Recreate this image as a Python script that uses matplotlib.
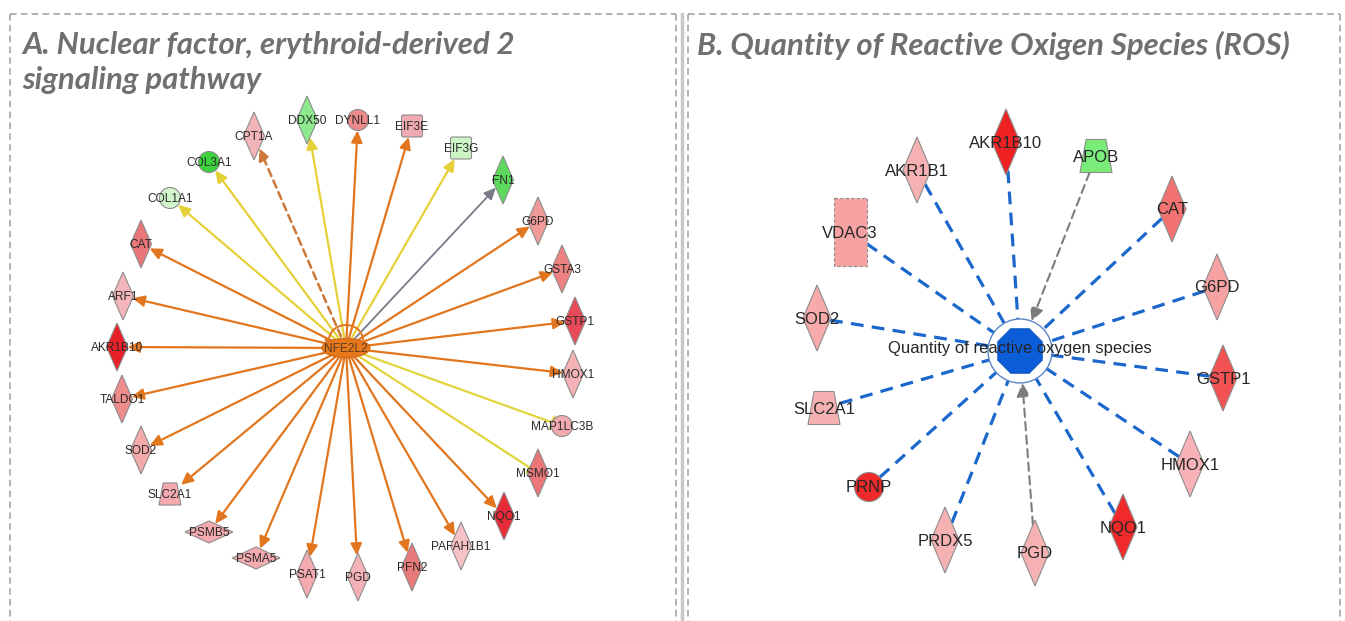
import numpy as np
import matplotlib
matplotlib.use("Agg")
import matplotlib.pyplot as plt
from matplotlib.patches import (Polygon, Circle, Rectangle, FancyBboxPatch, FancyArrowPatch,
                                RegularPolygon, Ellipse, Arc)

# Panel A: NFE2L2 hub and its targets
a_hub = "NFE2L2"
a_names = ["CPT1A", "DDX50", "DYNLL1", "EIF3E", "EIF3G", "FN1", "G6PD", "GSTA3", "GSTP1",
           "HMOX1", "MAP1LC3B", "MSMO1", "NQO1", "PAFAH1B1", "PFN2", "PGD", "PSAT1", "PSMA5",
           "PSMB5", "SLC2A1", "SOD2", "TALDO1", "AKR1B10", "ARF1", "CAT", "COL1A1", "COL3A1"]
a_shape = ["diamond", "diamond", "circle", "square", "square", "diamond", "diamond", "diamond", "diamond",
           "diamond", "circle", "diamond", "diamond", "diamond", "diamond", "diamond", "diamond", "hdiamond",
           "hdiamond", "trap", "diamond", "diamond", "diamond", "diamond", "diamond", "circle", "circle"]
a_color = ["#f2b4b6", "#8fe98f", "#ec8a8a", "#f0aab2", "#ccf4c4", "#5cd95c", "#f09a9a", "#ee8282", "#e84a58",
           "#f4b2b6", "#f2aaae", "#ea7679", "#e82a38", "#f6c2c6", "#e87a7a", "#f4b2b6", "#f4aaae", "#f4aaae",
           "#f4aaae", "#f4aaae", "#f4aaaa", "#ee8c8c", "#e82028", "#f4b6ba", "#e87678", "#d2f4ca", "#3cd23c"]
a_link = ["dash", "yellow", "orange", "orange", "yellow", "gray", "orange", "orange", "orange",
          "orange", "inhibit", "inhibit", "orange", "orange", "orange", "orange", "orange", "orange",
          "orange", "orange", "orange", "orange", "orange", "orange", "orange", "yellow", "yellow"]
# layout (pixel positions)
a_hub_xy = (346, 348)
a_x = [254, 307, 358, 412, 461, 503, 538, 562, 575, 573, 562, 538, 504, 461, 412, 358, 307, 256,
       209, 170, 141, 122, 117, 123, 141, 170, 209]
a_y = [136, 120, 120, 126, 148, 180, 221, 269, 321, 374, 426, 473, 516, 546, 567, 577, 574, 558,
       532, 494, 450, 399, 347, 296, 244, 198, 162]

# Panel B: ROS hub
b_hub = "Quantity of reactive oxygen species"
b_names = ["AKR1B10", "AKR1B1", "VDAC3", "SOD2", "SLC2A1", "PRNP", "PRDX5", "PGD", "NQO1",
           "HMOX1", "GSTP1", "G6PD", "CAT", "APOB"]
b_shape = ["diamond", "diamond", "rect", "diamond", "trap", "circle", "diamond", "diamond", "diamond",
           "diamond", "diamond", "diamond", "diamond", "trap"]
b_color = ["#ee2222", "#f6b2b2", "#f6a2a2", "#f6aaaa", "#f6b2b2", "#ee2a2a", "#f6b2b2", "#f6b2b2", "#f02a2a",
           "#f6b2b6", "#f25252", "#f6a2a2", "#f27272", "#7aec7a"]
b_link = ["blue", "blue", "blue", "blue", "blue", "blue", "blue", "gray", "blue",
          "blue", "blue", "blue", "blue", "gray"]
b_hub_xy = (1020, 351)
b_x = [1006, 917, 850, 817, 824, 869, 945, 1035, 1123, 1190, 1223, 1217, 1172, 1096]
b_y = [142, 170, 232, 318, 408, 487, 540, 553, 527, 464, 378, 287, 209, 156]

a_size = {"diamond": (10.5, 24), "hdiamond": (24, 11), "circle": (10.5, 10.5),
          "square": (10.5, 11), "trap": (11, 11)}
b_size = {"diamond": (14, 33), "circle": (14.5, 14.5), "rect": (16.5, 34), "trap": (16, 16.5)}

W, H = 1345, 621
fig = plt.figure(figsize=(W / 100, H / 100), dpi=100)
ax = fig.add_axes([0, 0, 1, 1])
ax.set_xlim(0, W)
ax.set_ylim(H, 0)
ax.axis("off")
plt.rcParams['font.family'] = ['Liberation Sans', 'DejaVu Sans']


def boundary(shape, size, ux, uy):
    w, h = size
    ux, uy = abs(ux) + 1e-9, abs(uy) + 1e-9
    if shape in ("diamond", "hdiamond"):
        return 1.0 / (ux / w + uy / h)
    if shape == "circle":
        return w
    return min(w / ux, h / uy)


def draw_node(x, y, shape, size, color, z=3):
    w, h = size
    kw = dict(facecolor=color, edgecolor="#8c8c8c", lw=0.8, zorder=z)
    if shape in ("diamond", "hdiamond"):
        p = Polygon([(x, y - h), (x + w, y), (x, y + h), (x - w, y)], closed=True, **kw)
    elif shape == "circle":
        p = Circle((x, y), w, **kw)
    elif shape == "trap":
        t = w * 0.62
        p = Polygon([(x - t, y - h), (x + t, y - h), (x + w, y + h), (x - w, y + h)], closed=True, **kw)
    elif shape == "square":
        p = FancyBboxPatch((x - w + 2, y - h + 2), 2 * w - 4, 2 * h - 4,
                           boxstyle="round,pad=2", **kw)
    else:
        p = Rectangle((x - w, y - h), 2 * w, 2 * h, linestyle=(0, (3, 2)), **kw)
    ax.add_patch(p)


# panel frames
frame = dict(color="#a6a6a6", lw=1.2, linestyle=(0, (4, 2.5)))
ax.plot([10, 676], [14, 14], **frame)
ax.plot([10, 10], [14, H], **frame)
ax.plot([676, 676], [14, H], **frame)
ax.plot([688, 1340], [14, 14], **frame)
ax.plot([688, 688], [14, H], **frame)
ax.plot([1340, 1340], [14, H], **frame)
ax.plot([682, 682], [14, H], color="#c8c8c8", lw=2.5)

title_kw = dict(fontsize=22.4, fontstyle="italic", fontweight="bold", color="#707070",
                family=["Lato", "DejaVu Sans"], va="center", ha="left")
ax.text(22, 45, "A. Nuclear factor, erythroid-derived 2", **title_kw)
ax.text(22, 80, "signaling pathway", **title_kw)
ax.text(697, 45, "B. Quantity of Reactive Oxigen Species (ROS)", **title_kw)

# ---- panel A ----
link_style = {
    "orange": dict(color="#e2761e", lw=1.6, ls="-", arrow="-|>"),
    "yellow": dict(color="#e6d038", lw=1.6, ls="-", arrow="-|>"),
    "dash": dict(color="#cd7838", lw=1.8, ls=(0, (3, 2)), arrow="-|>"),
    "gray": dict(color="#7a7a88", lw=1.3, ls="-", arrow="-|>"),
    "inhibit": dict(color="#e2d43c", lw=1.6, ls="-", arrow="-["),
}
hx, hy = a_hub_xy
for name, x, y, shp, col, lk in zip(a_names, a_x, a_y, a_shape, a_color, a_link):
    dx, dy = x - hx, y - hy
    L = np.hypot(dx, dy)
    ux, uy = dx / L, dy / L
    d = boundary(shp, a_size[shp], ux, uy)
    st = link_style[lk]
    if st["arrow"] == "-|>":
        astyle = "-|>,head_length=0.7,head_width=0.33"
    else:
        astyle = "-[,widthB=0.45,lengthB=0"
    arr = FancyArrowPatch((hx, hy), (x - ux * d, y - uy * d), arrowstyle=astyle, mutation_scale=10,
                          color=st["color"], lw=st["lw"], linestyle=st["ls"],
                          shrinkA=0, shrinkB=0, zorder=2)
    ax.add_patch(arr)
    draw_node(x, y, shp, a_size[shp], col)
    ax.text(x, y + 1, name, fontsize=8.6, color="#2a2a2a", ha="center", va="center", zorder=5)

# hub node with its self loop
ax.add_patch(Ellipse((hx, hy), 48, 19, facecolor="#e8781c", edgecolor="#d06a18", lw=0.8, zorder=4))
ax.add_patch(Arc((hx, hy - 8), 34, 30, theta1=180, theta2=360, color="#e2761e", lw=1.4, zorder=4.5))
ax.add_patch(Polygon([(hx - 22, hy - 9), (hx - 12, hy - 9), (hx - 17, hy - 1)], closed=True,
                     facecolor="#e2761e", edgecolor="none", zorder=4.6))
ax.text(hx, hy + 1, a_hub, fontsize=8.6, color="#5a3a22", ha="center", va="center", zorder=5)

# ---- panel B ----
bx, by = b_hub_xy
ring = 32
for name, x, y, shp, col, lk in zip(b_names, b_x, b_y, b_shape, b_color, b_link):
    dx, dy = bx - x, by - y
    L = np.hypot(dx, dy)
    ux, uy = dx / L, dy / L
    d = boundary(shp, b_size[shp], ux, uy)
    start = (x + ux * d, y + uy * d)
    end = (bx - ux * ring, by - uy * ring)
    if lk == "blue":
        ax.plot([start[0], end[0]], [start[1], end[1]], color="#1b67cc", lw=2.3,
                linestyle=(0, (4, 2.6)), zorder=2, solid_capstyle="butt")
    else:
        arr = FancyArrowPatch(start, end, arrowstyle="-|>,head_length=0.8,head_width=0.4",
                              mutation_scale=10, color="#7c7c7c", lw=1.5, linestyle=(0, (4, 2.5)),
                              shrinkA=0, shrinkB=0, zorder=2)
        ax.add_patch(arr)
    draw_node(x, y, shp, b_size[shp], col)
    ax.text(x, y + 1, name, fontsize=12, color="#262626", ha="center", va="center", zorder=5)

ax.add_patch(Circle((bx, by), ring, facecolor="white", edgecolor="#5b86c4", lw=1.0, zorder=3))
ax.add_patch(RegularPolygon((bx, by), numVertices=8, radius=24, orientation=np.pi / 8,
                            facecolor="#0b5ed8", edgecolor="#0a52c0", lw=0.8, zorder=4))
ax.text(bx, by - 2, b_hub, fontsize=12, color="#262626", ha="center", va="center", zorder=5)

fig.savefig("out.png", dpi=100)
